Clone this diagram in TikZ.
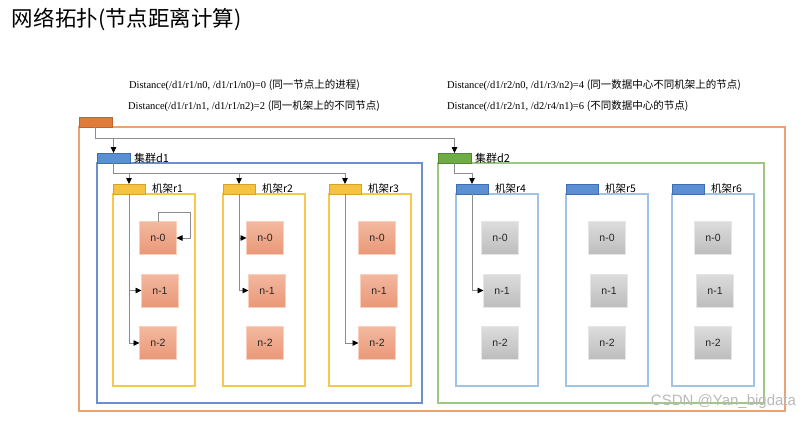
\documentclass[tikz,border=0pt]{standalone}
\usepackage{fontspec}
\setmainfont{Liberation Serif}
\newfontfamily\cjk{Noto Sans CJK SC}
\newfontfamily\arial{Liberation Sans}
\usetikzlibrary{arrows.meta, positioning}

\definecolor{rootfill}{HTML}{E07B39}
\definecolor{rootline}{HTML}{C0652A}
\definecolor{outerline}{HTML}{EBA374}
\definecolor{bluefill}{HTML}{5B8FD4}
\definecolor{blueline}{HTML}{3F6FB0}
\definecolor{d1frame}{HTML}{6E8FCB}
\definecolor{greenfill}{HTML}{6FAC46}
\definecolor{greenline}{HTML}{4F8A2E}
\definecolor{d2frame}{HTML}{9DC883}
\definecolor{rackfill}{HTML}{F5C242}
\definecolor{rackline}{HTML}{D6A227}
\definecolor{rackframe}{HTML}{F5C951}
\definecolor{blueframe}{HTML}{A2C3E8}
\definecolor{salmontop}{HTML}{F3B89F}
\definecolor{salmonbottom}{HTML}{EA9878}
\definecolor{salmonline}{HTML}{F8D0BC}
\definecolor{greytop}{HTML}{DCDCDC}
\definecolor{greybottom}{HTML}{BDBDBD}
\definecolor{greyline}{HTML}{E6E6E6}
\definecolor{linegrey}{HTML}{8C8C8C}

\begin{document}
\begin{tikzpicture}[
                                x=1pt, y=-1pt,
                                node distance=19.5pt,
                                every node/.style={inner sep=0pt, outer sep=0pt},
                                head/.style={
                                    rectangle, line width=0.8pt,
                                    minimum width=33pt, minimum height=10pt
                                    },
                                frame/.style={
                                    rectangle, line width=1.2pt,
                                    anchor=north west
                                    },
                                rack/.style={
                                    frame, minimum width=82pt, minimum height=192pt
                                    },
                                rackhead/.style={
                                    head, minimum width=32pt,
                                    anchor=south west
                                    },
                                lbl/.style={
                                    font=\cjk\fontsize{10.5}{12}\selectfont,
                                    label distance=7pt
                                    },
                                pc/.style={
                                    rectangle, minimum width=37pt, minimum height=33pt,
                                    draw=salmonline, top color=salmontop, bottom color=salmonbottom,
                                    text=black!85, font=\arial\fontsize{10.5}{12}\selectfont
                                    },
                                greypc/.style={
                                    pc, draw=greyline, top color=greytop, bottom color=greybottom
                                    },
                                dist/.style={
                                    anchor=west, font=\fontsize{10.5}{12}\selectfont
                                    },
                                link/.style={
                                    draw=linegrey, line width=0.8pt,
                                    -{Triangle[color=black, length=6pt, width=5.5pt]}
                                    }
                                ]
                            \useasboundingbox (0,0) rectangle (810,423);

                            \node [anchor=west, font=\cjk\fontsize{21.5}{24}\selectfont] (title) at (12,19) {网络拓扑(节点距离计算)};

                            \node [dist] (q1) at (129,85) {Distance(/d1/r1/n0, /d1/r1/n0)=0 {\cjk (同一节点上的进程)}};
                            \node [dist] (q2) at (128,106) {Distance(/d1/r1/n1, /d1/r1/n2)=2 {\cjk (同一机架上的不同节点)}};
                            \node [dist] (q3) at (447,85) {Distance(/d1/r2/n0, /d1/r3/n2)=4 {\cjk (同一数据中心不同机架上的节点)}};
                            \node [dist] (q4) at (447,106) {Distance(/d1/r2/n1, /d2/r4/n1)=6 {\cjk (不同数据中心的节点)}};

                            % data centre and clusters
                            \node [frame, draw=outerline, minimum width=706pt, minimum height=284pt] (dc) at (79,127) {};
                            \node [head, anchor=south west, fill=rootfill, draw=rootline] (root) at (dc.north west) {};
                            \node [frame, draw=d1frame, minimum width=325pt, minimum height=240pt] (d1box) at (97,163) {};
                            \node [head, anchor=south west, fill=bluefill, draw=blueline,
                                   label={[lbl, label distance=4pt, font=\cjk\fontsize{11}{12}\selectfont]right:集群d1}] (d1) at (d1box.north west) {};
                            \node [frame, draw=d2frame, minimum width=326pt, minimum height=240pt] (d2box) at (438,163) {};
                            \node [head, anchor=south west, fill=greenfill, draw=greenline,
                                   label={[lbl, label distance=4pt, font=\cjk\fontsize{11}{12}\selectfont]right:集群d2}] (d2) at (d2box.north west) {};

                            % racks
                            \node [rack, draw=rackframe] (r1box) at (113,194) {};
                            \node [rackhead, fill=rackfill, draw=rackline, label={[lbl]right:机架r1}] (r1) at (r1box.north west) {};
                            \node [rack, draw=rackframe] (r2box) at (223,194) {};
                            \node [rackhead, fill=rackfill, draw=rackline, label={[lbl]right:机架r2}] (r2) at (r2box.north west) {};
                            \node [rack, draw=rackframe] (r3box) at (329,194) {};
                            \node [rackhead, fill=rackfill, draw=rackline, label={[lbl]right:机架r3}] (r3) at (r3box.north west) {};
                            \node [rack, draw=blueframe] (r4box) at (456,194) {};
                            \node [rackhead, fill=bluefill, draw=blueline, label={[lbl]right:机架r4}] (r4) at (r4box.north west) {};
                            \node [rack, draw=blueframe] (r5box) at (566,194) {};
                            \node [rackhead, fill=bluefill, draw=blueline, label={[lbl]right:机架r5}] (r5) at (r5box.north west) {};
                            \node [rack, draw=blueframe] (r6box) at (672,194) {};
                            \node [rackhead, fill=bluefill, draw=blueline, label={[lbl]right:机架r6}] (r6) at (r6box.north west) {};

                            % hosts
                            \node [pc] (r1n0) at (158,238) {n-0};
                            \node [pc, below=of r1n0, xshift=2pt] (r1n1) {n-1};
                            \node [pc, below=of r1n1, xshift=-2pt] (r1n2) {n-2};
                            \node [pc] (r2n0) at (265,238) {n-0};
                            \node [pc, below=of r2n0, xshift=2pt] (r2n1) {n-1};
                            \node [pc, below=of r2n1, xshift=-2pt] (r2n2) {n-2};
                            \node [pc] (r3n0) at (377,238) {n-0};
                            \node [pc, below=of r3n0, xshift=2pt] (r3n1) {n-1};
                            \node [pc, below=of r3n1, xshift=-2pt] (r3n2) {n-2};
                            \node [greypc] (r4n0) at (500,238) {n-0};
                            \node [greypc, below=of r4n0, xshift=2pt] (r4n1) {n-1};
                            \node [greypc, below=of r4n1, xshift=-2pt] (r4n2) {n-2};
                            \node [greypc] (r5n0) at (607,238) {n-0};
                            \node [greypc, below=of r5n0, xshift=2pt] (r5n1) {n-1};
                            \node [greypc, below=of r5n1, xshift=-2pt] (r5n2) {n-2};
                            \node [greypc] (r6n0) at (713,238) {n-0};
                            \node [greypc, below=of r6n0, xshift=2pt] (r6n1) {n-1};
                            \node [greypc, below=of r6n1, xshift=-2pt] (r6n2) {n-2};

                            % connections
                            \coordinate (bus0) at ([yshift=-11.5pt]root.south);
                            \coordinate (bus1) at ([yshift=-10.5pt]d1.south);
                            \coordinate (bus2) at ([yshift=-10.5pt]d2.south);
                            \draw [link] (root) -- (bus0) -| (d1);
                            \draw [link] (bus0) -| (d2);
                            \draw [link] (d1) -- (bus1) -| (r1);
                            \draw [link] (bus1) -| (r2);
                            \draw [link] (bus1) -| (r3);
                            \draw [link] (d2) -- (bus2) -| (r4);
                            \draw [link] (r1n0.north) -- ++(0,-9.5) -| ([xshift=13.5pt]r1n0.east) -- (r1n0.east);
                            \draw [link] (r1) |- (r1n1);
                            \draw [link] (r1) |- (r1n2);
                            \draw [link] (r2) |- (r2n0);
                            \draw [link] (r2) |- (r2n1);
                            \draw [link] (r3) |- (r3n2);
                            \draw [link] (r4) |- (r4n1);

                            \node [anchor=east, text=gray!55, font=\arial\fontsize{15}{16}\selectfont] (mark) at (796,402) {CSDN @Yan\_bigdata};
                        \end{tikzpicture}
\end{document}
